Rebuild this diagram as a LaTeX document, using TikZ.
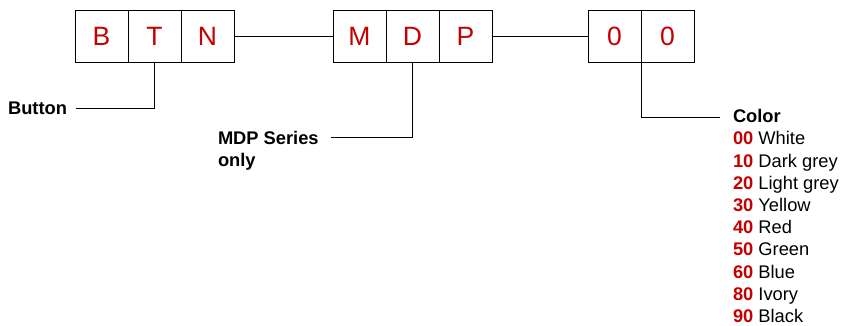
\documentclass[tikz,border=0pt]{standalone}
\usepackage{fontspec}
\setmainfont{Liberation Sans}
\definecolor{codered}{RGB}{196,0,0}
\newcommand{\cc}[1]{\textcolor{codered}{\textbf{#1}}}
\begin{document}
\begin{tikzpicture}[x=1pt,y=-1pt,
  cell/.style={draw, line width=0.8pt, minimum width=53pt, minimum height=52pt, inner sep=0pt, outer sep=0pt, text=codered, font=\fontsize{26.5}{30}\selectfont},
  lbl/.style={font=\bfseries\fontsize{18.3}{21.5}\selectfont, inner sep=0pt, outer sep=0pt},
  list/.style={font=\fontsize{18.3}{22.2}\selectfont, inner sep=0pt, outer sep=0pt, align=left},
  conn/.style={line width=0.8pt}]
\useasboundingbox (0,0) rectangle (841,326);
\node[cell] (b) at (101.5,36) {B};
\node[cell] (t) at (154.5,36) {T};
\node[cell] (n) at (207.5,36) {N};
\node[cell] (m) at (359.5,36) {M};
\node[cell] (d) at (412.5,36) {D};
\node[cell] (p) at (465.5,36) {P};
\node[cell] (z1) at (614.5,36) {0};
\node[cell] (z2) at (667.5,36) {0};
\draw[conn] (n.east) -- (m.west);
\draw[conn] (p.east) -- (z1.west);
\node[lbl, anchor=east] (button) at (67,108.5) {Button};
\coordinate (buttonend) at (76,108);
\draw[conn] (t.south) |- (buttonend);
\node[lbl, anchor=north west, align=left] (mdp) at (218,131.5) {MDP Series\\only};
\coordinate (mdpend) at (331,137);
\draw[conn] (d.south) |- (mdpend);
\node[list, anchor=north west] (colors) at (733,109.5) {\textbf{Color}\\
\cc{00} White\\
\cc{10} Dark grey\\
\cc{20} Light grey\\
\cc{30} Yellow\\
\cc{40} Red\\
\cc{50} Green\\
\cc{60} Blue\\
\cc{80} Ivory\\
\cc{90} Black};
\coordinate (colorend) at (720,117);
\draw[conn] (z1.south east) |- (colorend);
\end{tikzpicture}
\end{document}
